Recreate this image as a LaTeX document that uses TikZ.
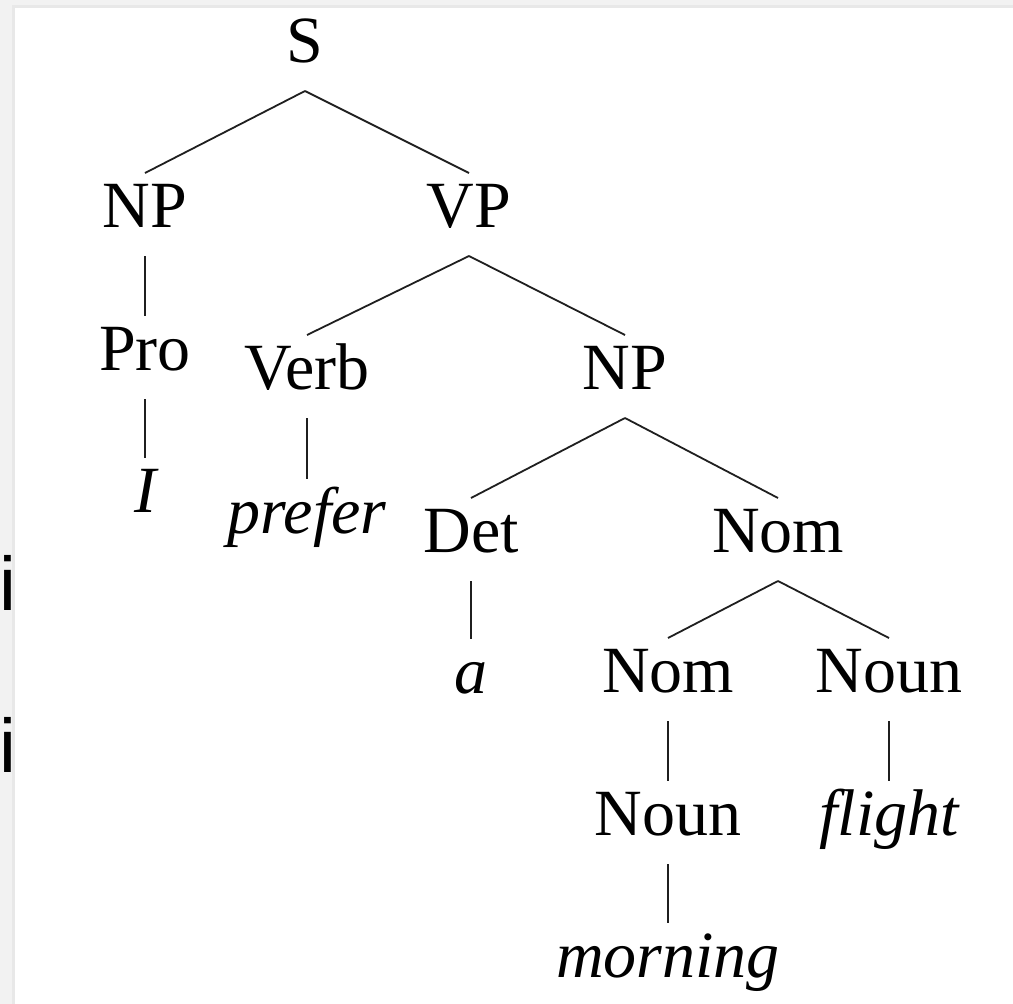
\documentclass[tikz,border=0pt]{standalone}
\usepackage{fontspec}
\setmainfont{Liberation Serif}
\newfontfamily\isans{Liberation Sans}
\usetikzlibrary{calc}
\tikzset{
  cat/.style={anchor=base, inner sep=0pt, font=\fontsize{66}{70}\selectfont},
  word/.style={anchor=base, inner sep=0pt, font=\fontsize{66}{70}\selectfont\itshape},
  branch/.style={line width=1.8pt, black!88},
  edgei/.style={anchor=base, inner sep=0pt, font=\isans\fontsize{76}{80}\selectfont}
}
\newcommand{\treeedge}[2]{\draw[branch] ($(#1.base)+(0pt,-29pt)$) -- ($(#2.base)+(0pt,54pt)$);}
\begin{document}
\begin{tikzpicture}[x=1pt,y=-1pt]
\useasboundingbox (0,0) rectangle (1013,1004);
\fill[black!5] (0,0) rectangle (1013,1004);
\fill[black!9] (12,5) rectangle (1013,1004);
\fill[white] (15,8) rectangle (1013,1004);
\node[edgei] (i1) at (7.5,610) {i};
\node[edgei] (i2) at (7.5,772) {i};

\node[cat] (S) at (305,62) {S};
\node[cat] (NPa) at (145,227) {NP};
\node[cat] (VP) at (469,227) {VP};
\node[cat] (Pro) at (145,370) {Pro};
\node[cat] (Verb) at (307,389) {Verb};
\node[cat] (NPb) at (625,389) {NP};
\node[word] (I) at (145,512) {I};
\node[word] (prefer) at (307,533) {prefer};
\node[cat] (Det) at (471,552) {Det};
\node[cat] (NomA) at (778,552) {Nom};
\node[word] (a) at (471,693) {a};
\node[cat] (NomB) at (668,692) {Nom};
\node[cat] (NounA) at (889,692) {Noun};
\node[cat] (NounB) at (668,835) {Noun};
\node[word] (flight) at (889,835) {flight};
\node[word] (morning) at (668,977) {morning};

\treeedge{S}{NPa}
\treeedge{S}{VP}
\treeedge{NPa}{Pro}
\treeedge{Pro}{I}
\treeedge{VP}{Verb}
\treeedge{VP}{NPb}
\treeedge{Verb}{prefer}
\treeedge{NPb}{Det}
\treeedge{NPb}{NomA}
\treeedge{Det}{a}
\treeedge{NomA}{NomB}
\treeedge{NomA}{NounA}
\treeedge{NomB}{NounB}
\treeedge{NounA}{flight}
\treeedge{NounB}{morning}
\end{tikzpicture}
\end{document}
